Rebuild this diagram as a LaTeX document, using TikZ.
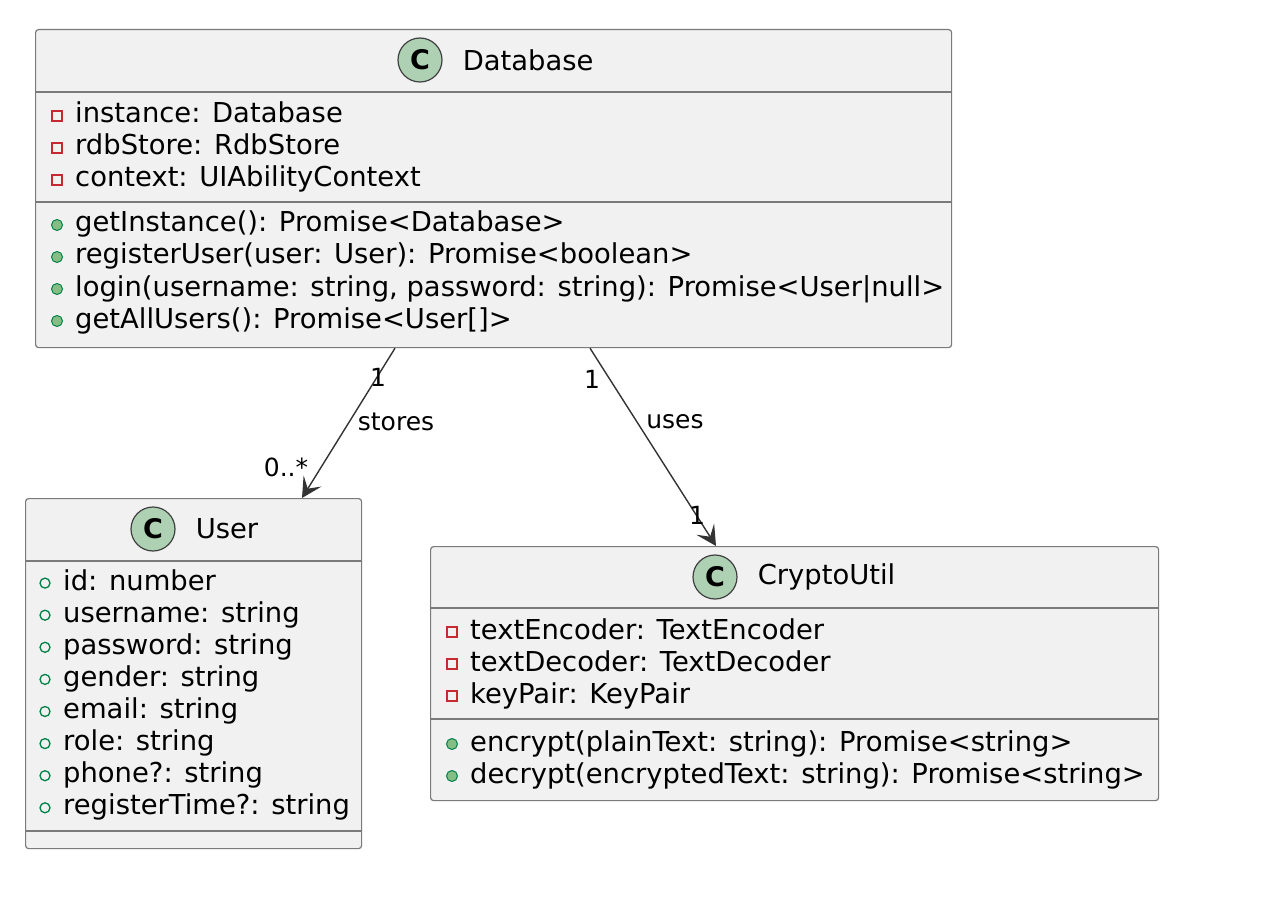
\documentclass[tikz,border=0pt]{standalone}
\usepackage{fontspec}
\setmainfont{DejaVu Sans}
\usetikzlibrary{arrows.meta,positioning}
\definecolor{boxfill}{HTML}{F1F1F1}
\definecolor{boxline}{HTML}{7A7A7A}
\definecolor{iconfill}{HTML}{ADD1B2}
\definecolor{privred}{HTML}{C82930}
\definecolor{pubgreen}{HTML}{038048}
\definecolor{pubfill}{HTML}{84BE84}

\begin{document}
\begin{tikzpicture}[x=1pt,y=-1pt,
    classbox/.style={draw=boxline,fill=boxfill,line width=1.2pt,rounded corners=3pt,
      anchor=north west,inner sep=0pt},
    classicon/.style={circle,draw=black!75,fill=iconfill,line width=1.2pt,minimum size=44pt,
      inner sep=0pt,font=\fontsize{27}{27}\selectfont\bfseries},
    classname/.style={inner sep=0pt,font=\fontsize{27.4}{32}\selectfont},
    member/.style={anchor=west,inner sep=0pt,text height=20pt,text depth=6pt,
      font=\fontsize{27.4}{32}\selectfont},
    privmark/.style={rectangle,draw=privred,line width=1.3pt,minimum size=10pt,inner sep=0pt},
    pubfield/.style={circle,draw=pubgreen,line width=1.3pt,minimum size=10pt,inner sep=0pt},
    pubmethod/.style={circle,draw=pubgreen,fill=pubfill,line width=1pt,minimum size=11pt,inner sep=0pt},
    divider/.style={draw=boxline,line width=1.2pt},
    assoc/.style={draw=black!80,line width=1.4pt,-{Stealth[length=20pt,width=21pt,inset=9pt]}},
    mult/.style={inner sep=0pt,font=\fontsize{25}{25}\selectfont}]
  \useasboundingbox (0,0) rectangle (1280,904);

  % Database
  \node[classbox,minimum width=916pt,minimum height=318pt] (db) at (35,29) {};
  \draw[divider] (35,92) -- (951,92);
  \draw[divider] (35,202) -- (951,202);
  \node[classicon] (dbicon) at (420,60) {C};
  \node[classname,right=20pt of dbicon] (dbname) {Database};
  \foreach \t [count=\i] in {instance: Database,rdbStore: RdbStore,context: UIAbilityContext} {
    \node[privmark] (db-p\i) at (57,84+32*\i) {};
    \node[member] (db-a\i) at (75,84+32*\i) {\t};
  }
  \foreach \t [count=\i] in {getInstance(): Promise<Database>,
      registerUser(user: User): Promise<boolean>,
      {login(username: string, password: string): Promise<User|null>},
      getAllUsers(): Promise<User[]>} {
    \node[pubmethod] (db-q\i) at (57,193+32*\i) {};
    \node[member] (db-m\i) at (75,193+32*\i) {\t};
  }

  % User
  \node[classbox,minimum width=336pt,minimum height=350pt] (user) at (25,498) {};
  \draw[divider] (25,561) -- (361,561);
  \draw[divider] (25,831) -- (361,831);
  \node[classicon] (usericon) at (153,529) {C};
  \node[classname,right=20pt of usericon] (username) {User};
  \foreach \t [count=\i] in {id: number,username: string,password: string,gender: string,
      email: string,role: string,phone?: string,registerTime?: string} {
    \node[pubfield] (user-p\i) at (45,551+32.1*\i) {};
    \node[member] (user-a\i) at (63,551+32.1*\i) {\t};
  }

  % CryptoUtil
  \node[classbox,minimum width=728pt,minimum height=254pt] (crypto) at (430,546) {};
  \draw[divider] (430,608) -- (1158,608);
  \draw[divider] (430,719) -- (1158,719);
  \node[classicon] (cryptoicon) at (715,577) {C};
  \node[classname,right=20pt of cryptoicon] (cryptoname) {CryptoUtil};
  \foreach \t [count=\i] in {textEncoder: TextEncoder,textDecoder: TextDecoder,keyPair: KeyPair} {
    \node[privmark] (crypto-p\i) at (452,600+32*\i) {};
    \node[member] (crypto-a\i) at (470,600+32*\i) {\t};
  }
  \foreach \t [count=\i] in {encrypt(plainText: string): Promise<string>,
      decrypt(encryptedText: string): Promise<string>} {
    \node[pubmethod] (crypto-q\i) at (452,712+32*\i) {};
    \node[member] (crypto-m\i) at (470,712+32*\i) {\t};
  }

  % associations
  \coordinate (st-from) at ([xshift=360pt]db.south west);
  \coordinate (st-to) at ([xshift=277pt]user.north west);
  \coordinate (us-from) at ([xshift=555pt]db.south west);
  \coordinate (us-to) at ([xshift=286pt]crypto.north west);
  \draw[assoc] (st-from) -- (st-to);
  \draw[assoc] (us-from) -- (us-to);
  \node[mult] (st-one) at (378,377) {1};
  \node[mult] (st-lbl) at (396,422) {stores};
  \node[mult] (st-many) at (286,467) {0..*};
  \node[mult] (us-one) at (592,379) {1};
  \node[mult] (us-lbl) at (675,422) {uses};
  \node[mult] (us-end) at (697,515) {1};
\end{tikzpicture}
\end{document}
